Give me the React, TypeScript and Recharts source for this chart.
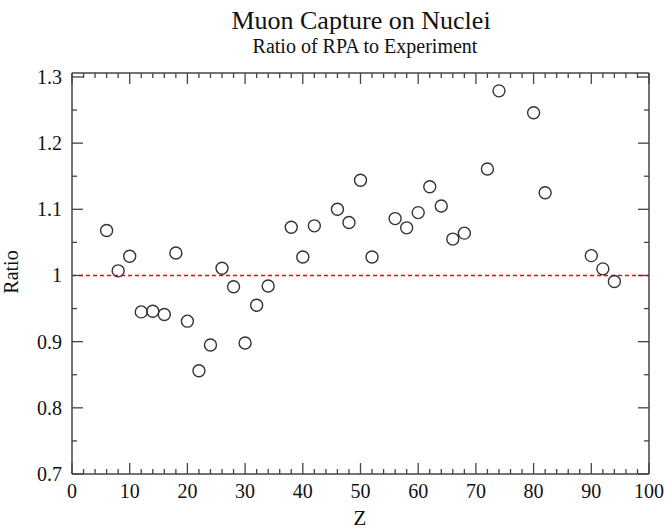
import React from 'react';
import { ScatterChart, Scatter, XAxis, YAxis, ReferenceLine } from 'recharts';

const zValues = [6, 8, 10, 12, 14, 16, 18, 20, 22, 24, 26, 28, 30, 32, 34, 38, 40, 42, 46, 48, 50, 52, 56, 58, 60, 62, 64, 66, 68, 72, 74, 80, 82, 90, 92, 94];
const ratioValues = [1.068, 1.007, 1.029, 0.945, 0.946, 0.941, 1.034, 0.931, 0.856, 0.895, 1.011, 0.983, 0.898, 0.955, 0.984, 1.073, 1.028, 1.075, 1.1, 1.08, 1.144, 1.028, 1.086, 1.072, 1.095, 1.134, 1.105, 1.055, 1.064, 1.161, 1.279, 1.246, 1.125, 1.03, 1.01, 0.991];

const xTicks = [0, 2, 4, 6, 8, 10, 12, 14, 16, 18, 20, 22, 24, 26, 28, 30, 32, 34, 36, 38, 40, 42, 44, 46, 48, 50, 52, 54, 56, 58, 60, 62, 64, 66, 68, 70, 72, 74, 76, 78, 80, 82, 84, 86, 88, 90, 92, 94, 96, 98, 100];
const xTickLabels = [0, 10, 20, 30, 40, 50, 60, 70, 80, 90, 100];
const yTicks = [0.7, 0.75, 0.8, 0.85, 0.9, 0.95, 1.0, 1.05, 1.1, 1.15, 1.2, 1.25, 1.3];
const yTickLabels = [0.7, 0.8, 0.9, 1.0, 1.1, 1.2, 1.3];
const unityRatio = 1;

const title = 'Muon Capture on Nuclei';
const subtitle = 'Ratio of RPA to Experiment';
const xLabel = 'Z';
const yLabel = 'Ratio';

const data = zValues.map((z, i) => ({ z, r: ratioValues[i] }));

const FONT = '"Liberation Serif", "DejaVu Serif", serif';
const TEXT = '#111';
const FRAME = '#444';
const RED = '#ff0000';
const MAJOR = 11;
const MINOR = 5;

const isMajorX = (v: number) => xTickLabels.some((t) => Math.abs(t - v) < 1e-6);
const isMajorY = (v: number) => yTickLabels.some((t) => Math.abs(t - v) < 1e-6);
const fmtY = (v: number) => (Math.abs(v - 1) < 1e-6 ? '1' : String(Math.round(v * 10) / 10));

const BottomTick = (props: any) => {
  const { x, y, payload } = props;
  const major = isMajorX(payload.value);
  return (
    <g>
      <line x1={x} x2={x} y1={y} y2={y - (major ? MAJOR : MINOR)} stroke={FRAME} strokeWidth={1.3} />
      {major && (
        <text x={x} y={y + 24} textAnchor="middle" fontFamily={FONT} fontSize={20} fill={TEXT}>
          {payload.value}
        </text>
      )}
    </g>
  );
};

const TopTick = (props: any) => {
  const { x, y, payload } = props;
  const major = isMajorX(payload.value);
  return <line x1={x} x2={x} y1={y} y2={y + (major ? MAJOR : MINOR)} stroke={FRAME} strokeWidth={1.3} />;
};

const LeftTick = (props: any) => {
  const { x, y, payload } = props;
  const major = isMajorY(payload.value);
  return (
    <g>
      <line x1={x} x2={x + (major ? MAJOR : MINOR)} y1={y} y2={y} stroke={FRAME} strokeWidth={1.3} />
      {major && (
        <text x={x - 10} y={y + 7} textAnchor="end" fontFamily={FONT} fontSize={20} fill={TEXT}>
          {fmtY(payload.value)}
        </text>
      )}
    </g>
  );
};

const RightTick = (props: any) => {
  const { x, y, payload } = props;
  const major = isMajorY(payload.value);
  return <line x1={x} x2={x - (major ? MAJOR : MINOR)} y1={y} y2={y} stroke={FRAME} strokeWidth={1.3} />;
};

const Ring = (props: any) => {
  const { cx, cy } = props;
  return <circle cx={cx} cy={cy} r={6} fill="none" stroke="#333" strokeWidth={1.4} />;
};

export default function App() {
  return (
    <div style={{ position: 'absolute', left: 0, top: 0, width: 665, height: 529, background: '#fff' }}>
      <ScatterChart width={665} height={529} margin={{ top: 72, right: 15, bottom: 25, left: 71 }}>
        <XAxis
          xAxisId="b"
          type="number"
          dataKey="z"
          domain={[0, 100]}
          ticks={xTicks}
          interval={0}
          height={30}
          tickSize={0}
          tickMargin={0}
          tickLine={false}
          axisLine={{ stroke: FRAME, strokeWidth: 1.5 }}
          tick={<BottomTick />}
          allowDataOverflow
        />
        <XAxis
          xAxisId="t"
          orientation="top"
          type="number"
          dataKey="z"
          domain={[0, 100]}
          ticks={xTicks}
          interval={0}
          height={1}
          tickSize={0}
          tickMargin={0}
          tickLine={false}
          axisLine={{ stroke: FRAME, strokeWidth: 1.5 }}
          tick={<TopTick />}
          allowDataOverflow
        />
        <YAxis
          yAxisId="l"
          type="number"
          dataKey="r"
          domain={[0.7, 1.306]}
          ticks={yTicks}
          interval={0}
          width={1}
          tickSize={0}
          tickMargin={0}
          tickLine={false}
          axisLine={{ stroke: FRAME, strokeWidth: 1.5 }}
          tick={<LeftTick />}
          allowDataOverflow
        />
        <YAxis
          yAxisId="r"
          orientation="right"
          type="number"
          dataKey="r"
          domain={[0.7, 1.306]}
          ticks={yTicks}
          interval={0}
          width={1}
          tickSize={0}
          tickMargin={0}
          tickLine={false}
          axisLine={{ stroke: FRAME, strokeWidth: 1.5 }}
          tick={<RightTick />}
          allowDataOverflow
        />
        <ReferenceLine
          xAxisId="b"
          yAxisId="l"
          y={unityRatio}
          stroke={RED}
          strokeWidth={1.4}
          strokeDasharray="4 3"
          strokeOpacity={1}
          ifOverflow="hidden"
        />
        <Scatter xAxisId="b" yAxisId="l" data={data} shape={<Ring />} isAnimationActive={false} />
      </ScatterChart>
      <svg width={665} height={529} style={{ position: 'absolute', left: 0, top: 0, pointerEvents: 'none' }}>
        <text x={361} y={29} textAnchor="middle" fontFamily={FONT} fontSize={26} fill={TEXT}>
          {title}
        </text>
        <text x={365} y={53} textAnchor="middle" fontFamily={FONT} fontSize={20} fill={TEXT}>
          {subtitle}
        </text>
        <text x={360} y={525} textAnchor="middle" fontFamily={FONT} fontSize={21} fill={TEXT}>
          {xLabel}
        </text>
        <text transform="translate(18,272) rotate(-90)" textAnchor="middle" fontFamily={FONT} fontSize={20} fill={TEXT}>
          {yLabel}
        </text>
      </svg>
    </div>
  );
}
